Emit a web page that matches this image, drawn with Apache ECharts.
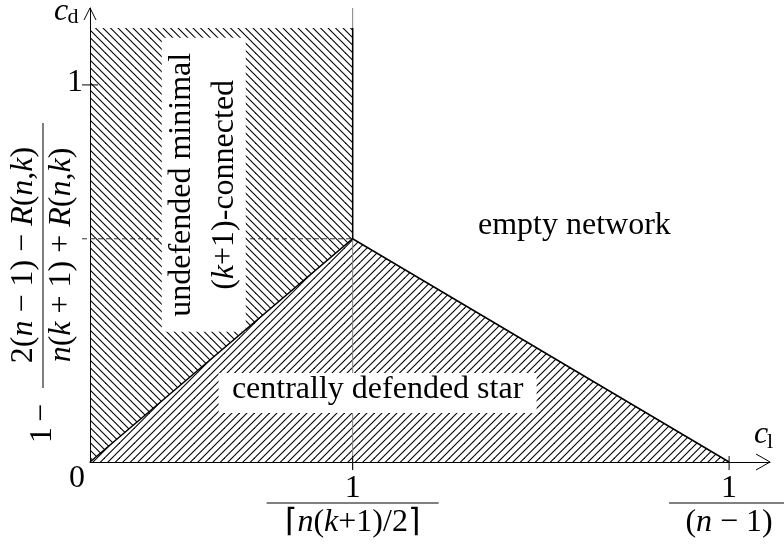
<!DOCTYPE html>
<html><head><meta charset="utf-8">
<script src="https://cdn.jsdelivr.net/npm/echarts@6/dist/echarts.min.js"></script>
<style>html,body{margin:0;padding:0;background:#fff}#c{width:784px;height:547px}</style>
</head><body><div id="c"></div>
<script>
// ---------------- data ----------------
const axisMax = [1.064, 1.204];                 // c_l axis end, c_d axis end
const xTickValues = [0.411, 1.0];               // 1/⌈n(k+1)/2⌉ , 1/(n−1)
const xTickNumerators = ['1', '1'];
const xTickDenominators = ['⌈{i|n}({i|k}+1)/2⌉', '({i|n} − 1)'];
const yTickValues = [1];
const yTickLabels = ['1'];
const apex = [0.411, 0.592];                    // (1/⌈n(k+1)/2⌉ , 1 − (2(n−1)−R)/(n(k+1)+R))
const undefendedRegion = [[0, 0], [0, 1.151], [0.411, 1.151], [0.411, 0.592]];
const starRegion = [[0, 0], [0.411, 0.592], [1.0, 0]];
const regionLabels = ['centrally defended star', 'empty network'];
const regionLabelAnchors = [[0.45, 0.191], [0.758, 0.626]];
const rotatedLabelLines = ['undefended minimal', '({i|k}+1)-connected'];
const rotatedLabelAnchor = [0.178, 0.735];
const yTitleNum = '2({i|n} − 1) − {i|R}({i|n},{i|k})';
const yTitleDen = '{i|n}({i|k} + 1) + {i|R}({i|n},{i|k})';

// ---------------- style ----------------
const FONT = 'Liberation Serif';
const FS = 32;
const RICH = { i: { fontStyle: 'italic', fontFamily: FONT, fontSize: FS, fill: '#000' } };
const fracBarWidths = [172, 120];

function hatch(dir) {
  const s = 15, c = document.createElement('canvas');
  c.width = c.height = s;
  const g = c.getContext('2d');
  g.strokeStyle = '#000'; g.lineWidth = 1.1;
  for (let k = -2; k <= 2; k++) {
    const o = k * s / 2;
    g.beginPath();
    if (dir === 'nw') { g.moveTo(o - 2, -2); g.lineTo(o + s + 2, s + 2); }
    else { g.moveTo(o - 2, s + 2); g.lineTo(o + s + 2, -2); }
    g.stroke();
  }
  return c;
}
const patNW = { image: hatch('nw'), repeat: 'repeat' };
const patNE = { image: hatch('ne'), repeat: 'repeat' };

function T(text, x, y, extra) {
  return { type: 'text', x: x, y: y, style: Object.assign({ text: text, fill: '#000', fontFamily: FONT, fontSize: FS, align: 'center', verticalAlign: 'middle', rich: RICH }, extra || {}) };
}
function L(x1, y1, x2, y2, st) {
  return { type: 'line', shape: { x1: x1, y1: y1, x2: x2, y2: y2 }, style: Object.assign({ stroke: '#000', lineWidth: 1 }, st || {}) };
}
function single(z, fn) {
  return { type: 'custom', coordinateSystem: 'cartesian2d', silent: true, z: z, data: [[0, 0]], renderItem: fn, animation: false };
}

const chart = echarts.init(document.getElementById('c'), null, { renderer: 'canvas' });
chart.setOption({
  animation: false,
  backgroundColor: '#fff',
  textStyle: { fontFamily: FONT },
  grid: { left: 90, right: 14, top: 8, bottom: 85 },
  xAxis: { type: 'value', min: 0, max: axisMax[0], axisLine: { lineStyle: { color: '#000', width: 1 } }, axisTick: { show: false }, axisLabel: { show: false }, splitLine: { show: false } },
  yAxis: { type: 'value', min: 0, max: axisMax[1], axisLine: { lineStyle: { color: '#000', width: 1 } }, axisTick: { show: false }, axisLabel: { show: false }, splitLine: { show: false } },
  series: [
    // hatched regions
    single(1, (p, api) => ({ type: 'polygon', shape: { points: undefendedRegion.map(v => api.coord(v)) }, style: { fill: patNW, stroke: null } })),
    single(1, (p, api) => ({ type: 'polygon', shape: { points: starRegion.map(v => api.coord(v)) }, style: { fill: patNE, stroke: null } })),
    // guide lines
    single(2, (p, api) => {
      const a = api.coord(apex), b = api.coord([apex[0], 0]), t = api.coord([apex[0], axisMax[1]]), o = api.coord([0, apex[1]]);
      return { type: 'group', children: [
        L(b[0], b[1] + 8, t[0], t[1], { stroke: '#808080', lineWidth: 1 }),
        L(o[0] - 8, a[1], a[0], a[1], { stroke: '#333', lineWidth: 1, lineDash: [5, 3] })
      ] };
    }),
    // white-boxed labels
    single(3, (p, api) => {
      const ch = [];
      regionLabels.forEach((s, i) => {
        const c = api.coord(regionLabelAnchors[i]);
        if (i === 0) ch.push({ type: 'rect', shape: { x: c[0] - 159, y: c[1] - 17, width: 318, height: 40 }, style: { fill: '#fff' } });
        ch.push(T(s, c[0], c[1]));
      });
      const r = api.coord(rotatedLabelAnchor);
      ch.push({ type: 'group', x: r[0], y: r[1], rotation: Math.PI / 2, children: [
        { type: 'rect', shape: { x: -147, y: -42, width: 294, height: 84 }, style: { fill: '#fff' } },
        T(rotatedLabelLines[0], 0, -22),
        T(rotatedLabelLines[1], 0, 21)
      ] });
      return { type: 'group', children: ch };
    }),
    // region boundaries
    single(4, (p, api) => {
      const pts = starRegion.map(v => api.coord(v));
      const top = api.coord(undefendedRegion[2]), a = api.coord(undefendedRegion[3]);
      return { type: 'group', children: [
        { type: 'polyline', shape: { points: pts }, style: { stroke: '#000', lineWidth: 1.5, fill: null } },
        L(top[0], top[1], a[0], a[1], { lineWidth: 1.5 })
      ] };
    }),
    // axis arrows, axis names, origin
    single(5, (p, api) => {
      const xe = api.coord([axisMax[0], 0]), ye = api.coord([0, axisMax[1]]), o = api.coord([0, 0]);
      return { type: 'group', children: [
        { type: 'polyline', shape: { points: [[xe[0] - 14, xe[1] - 8], xe, [xe[0] - 14, xe[1] + 8]] }, style: { stroke: '#000', lineWidth: 1, fill: null } },
        { type: 'polyline', shape: { points: [[ye[0] - 6, ye[1] + 12], ye, [ye[0] + 6, ye[1] + 12]] }, style: { stroke: '#000', lineWidth: 1, fill: null } },
        T('c', xe[0] - 9, xe[1] - 27, { fontStyle: 'italic' }),
        T('l', xe[0] + 0, xe[1] - 20, { fontSize: 22 }),
        T('c', ye[0] - 29, ye[1] + 4, { fontStyle: 'italic' }),
        T('d', ye[0] - 17, ye[1] + 9, { fontSize: 22 }),
        T('0', o[0] - 13, o[1] + 17)
      ] };
    }),
    // x ticks + fraction labels
    { type: 'custom', coordinateSystem: 'cartesian2d', silent: true, z: 5, animation: false,
      data: xTickValues.map((v, i) => [v, i]),
      renderItem: (p, api) => {
        const c = api.coord([api.value(0), 0]), i = api.value(1), w = fracBarWidths[i];
        return { type: 'group', children: [
          L(c[0], c[1] - 6, c[0], c[1] + 8),
          T(xTickNumerators[i], c[0], c[1] + 27),
          L(c[0] - w / 2, c[1] + 41, c[0] + w / 2, c[1] + 41, { lineWidth: 1 }),
          T(xTickDenominators[i], c[0], c[1] + 61)
        ] };
      } },
    // y ticks + labels
    { type: 'custom', coordinateSystem: 'cartesian2d', silent: true, z: 5, animation: false,
      data: yTickValues.map((v, i) => [0, v, i]),
      renderItem: (p, api) => {
        const c = api.coord([0, api.value(1)]), i = api.value(2);
        return { type: 'group', children: [
          L(c[0] - 8, c[1], c[0] + 8, c[1]),
          T(yTickLabels[i], c[0] - 7, c[1] - 2, { align: 'right' })
        ] };
      } },
    // y axis title (rotated fraction)
    single(5, (p, api) => {
      const c = api.coord([0, axisMax[1] / 2]);
      return { type: 'group', x: c[0] - 47, y: c[1] + 20, rotation: Math.PI / 2, children: [
        T(yTitleNum, 0, -19),
        L(-133, 0, 132, 0, { lineWidth: 1 }),
        T(yTitleDen, 0, 19),
        T('1', -180, 0),
        T('−', -158, 0)
      ] };
    })
  ]
});
</script>
</body></html>
